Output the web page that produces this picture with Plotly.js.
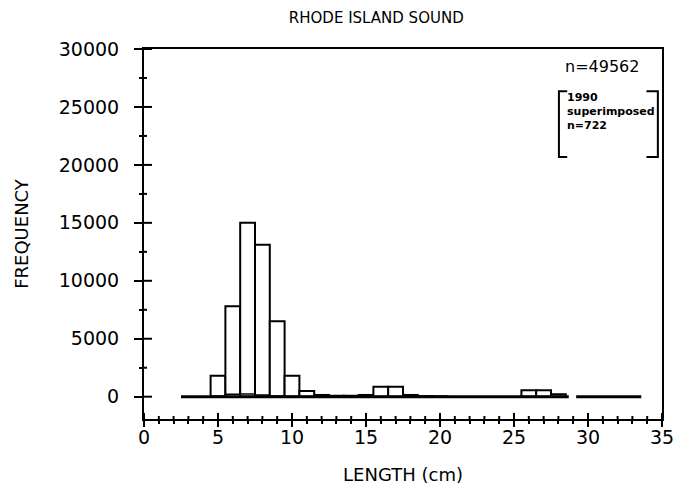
<!DOCTYPE html>
<html>
<head>
<meta charset="utf-8">
<script src="https://cdn.plot.ly/plotly-3.0.1.min.js"></script>
<style>html,body{margin:0;padding:0;background:#fff;}#chart{width:678px;height:500px;}</style>
</head>
<body>
<div id="chart"></div>
<script>
// Length bins (cm, bin centres) and frequencies
var lengthBins = [5, 6, 7, 8, 9, 10, 11, 12, 13, 14, 15, 16, 17, 18, 19, 20, 26, 27, 28];
var freqAll    = [1800, 7800, 15000, 13100, 6500, 1800, 500, 150, 80, 80, 150, 850, 850, 150, 50, 30, 550, 550, 200];
// 1990 superimposed (n=722)
var lengthBins1990 = [5, 6, 7, 8, 9, 10, 11];
var freq1990       = [40, 220, 240, 150, 50, 15, 7];
// extent of the drawn histogram baselines (cm)
var baseStart = [2.5, 29.2];
var baseEnd   = [28.7, 33.6];

var titleText = 'RHODE ISLAND SOUND';
var xTitle = 'LENGTH (cm)';
var yTitle = 'FREQUENCY';
var nLabel = 'n=49562';
var boxLines = ['1990', 'superimposed', 'n=722'];

var FONT = 'DejaVu Sans, Arial, sans-serif';
var X_RANGE = [0, 35];
var Y_RANGE = [-1925, 30000];

var baseX = [], baseY = [];
for (var i = 0; i < baseStart.length; i++) {
  baseX.push(baseStart[i], baseEnd[i], null);
  baseY.push(0, 0, null);
}

var traces = [
  {type: 'scatter', mode: 'lines', x: baseX, y: baseY, line: {color: '#000', width: 3}, hoverinfo: 'skip', showlegend: false},
  {type: 'bar', x: lengthBins, y: freqAll, width: 1, marker: {color: 'rgba(255,255,255,1)', line: {color: '#000', width: 2}}, showlegend: false},
  {type: 'bar', x: lengthBins1990, y: freq1990, width: 1, marker: {color: 'rgba(255,255,255,0)', line: {color: '#000', width: 1.5}}, showlegend: false}
];

// inner half of the crossing tick marks (outer half comes from the axes themselves)
var tickShapes = [];
for (var xv = X_RANGE[0]; xv <= X_RANGE[1]; xv += 1) {
  var lx = (xv % 5 === 0) ? 6 : 3;
  tickShapes.push({type: 'line', xref: 'x', yref: 'y', x0: xv, x1: xv, ysizemode: 'pixel', yanchor: Y_RANGE[0], y0: -lx, y1: lx, line: {color: '#000', width: 2}});
}
for (var yv = 0; yv <= 30000; yv += 2500) {
  var ly = (yv % 5000 === 0) ? 8 : 3;
  tickShapes.push({type: 'line', xref: 'x', yref: 'y', y0: yv, y1: yv, xsizemode: 'pixel', xanchor: X_RANGE[0], x0: -ly, x1: ly, line: {color: '#000', width: 2}});
}

var layout = {
  width: 678, height: 500,
  margin: {l: 144, r: 16, t: 49, b: 81},
  paper_bgcolor: '#fff', plot_bgcolor: '#fff',
  barmode: 'overlay',
  bargap: 0,
  showlegend: false,
  font: {family: FONT, color: '#000'},
  title: {text: titleText, font: {family: FONT, size: 15, color: '#000'}, x: 0.555, xanchor: 'center', xref: 'container', y: 0.964, yanchor: 'middle', yref: 'container'},
  xaxis: {
    range: X_RANGE, tick0: 0, dtick: 5, ticks: 'outside', ticklen: 6, tickwidth: 2, tickcolor: '#000',
    showgrid: false, zeroline: false, showline: true, linewidth: 2, linecolor: '#000', mirror: true,
    minor: {dtick: 1, ticks: 'outside', ticklen: 3, tickwidth: 2, tickcolor: '#000'},
    tickfont: {family: FONT, size: 19, color: '#000'}, ticklabelstandoff: -6, tickformat: 'd',
    title: {text: xTitle, font: {family: FONT, size: 18, color: '#000'}, standoff: 22}
  },
  yaxis: {
    range: Y_RANGE, tick0: 0, dtick: 5000, ticks: 'outside', ticklen: 8, tickwidth: 2, tickcolor: '#000',
    showgrid: false, zeroline: false, showline: true, linewidth: 2, linecolor: '#000', mirror: true,
    minor: {dtick: 2500, ticks: 'outside', ticklen: 3, tickwidth: 2, tickcolor: '#000'},
    tickfont: {family: FONT, size: 19, color: '#000'}, ticklabelstandoff: 11, tickformat: 'd',
    title: {text: yTitle, font: {family: FONT, size: 18, color: '#000'}, standoff: 25}
  },
  annotations: [
    {text: nLabel, xref: 'paper', yref: 'paper', x: 0.809, y: 0.954, xanchor: 'left', yanchor: 'middle', showarrow: false, font: {family: FONT, size: 16, color: '#000'}},
    {text: boxLines[0], xref: 'paper', yref: 'paper', x: 0.812, y: 0.870, xanchor: 'left', yanchor: 'middle', showarrow: false, font: {family: FONT, size: 11, color: '#000', weight: 'bold'}},
    {text: boxLines[1], xref: 'paper', yref: 'paper', x: 0.812, y: 0.832, xanchor: 'left', yanchor: 'middle', showarrow: false, font: {family: FONT, size: 11, color: '#000', weight: 'bold'}},
    {text: boxLines[2], xref: 'paper', yref: 'paper', x: 0.812, y: 0.794, xanchor: 'left', yanchor: 'middle', showarrow: false, font: {family: FONT, size: 11, color: '#000', weight: 'bold'}}
  ],
  shapes: [
    {type: 'path', xref: 'paper', yref: 'paper', path: 'M 0.817 0.886 L 0.801 0.886 L 0.801 0.708 L 0.817 0.708', line: {color: '#000', width: 2}},
    {type: 'path', xref: 'paper', yref: 'paper', path: 'M 0.970 0.886 L 0.992 0.886 L 0.992 0.708 L 0.970 0.708', line: {color: '#000', width: 2}}
  ].concat(tickShapes)
};

Plotly.newPlot('chart', traces, layout, {staticPlot: true, displayModeBar: false});
</script>
</body>
</html>
